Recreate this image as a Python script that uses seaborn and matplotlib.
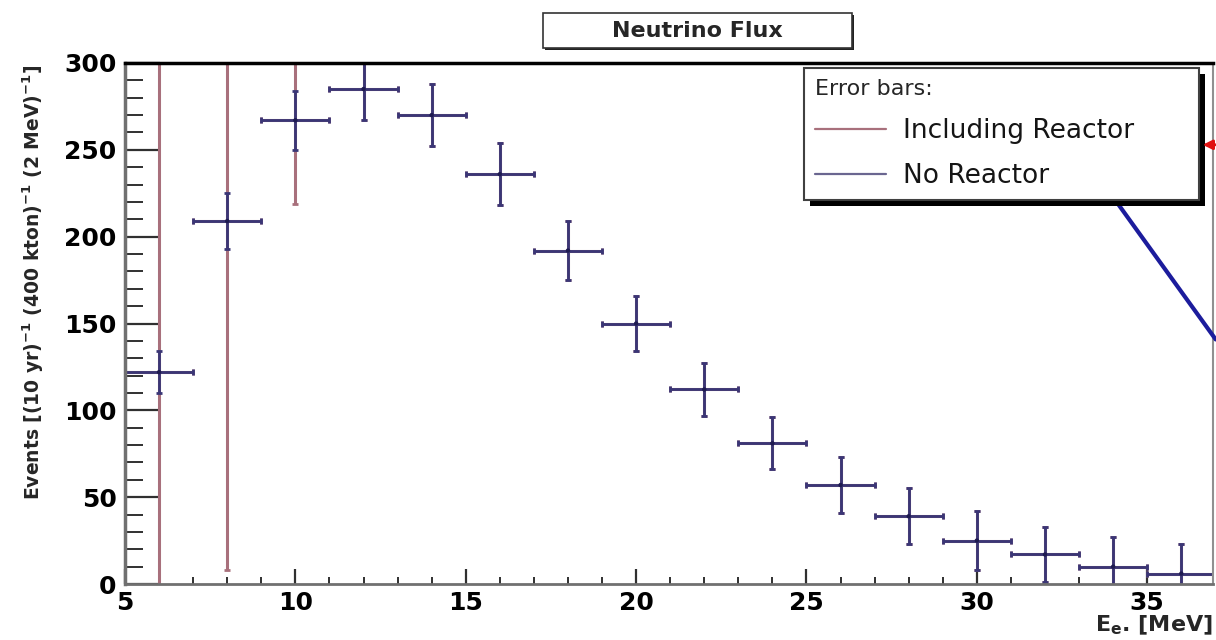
import numpy as np
import pandas as pd
import matplotlib
matplotlib.use("Agg")
import matplotlib.pyplot as plt
import seaborn as sns
from matplotlib.lines import Line2D
from matplotlib.patches import Rectangle
from matplotlib.ticker import MultipleLocator

# ---- data ----
energy = [6, 8, 10, 12, 14, 16, 18, 20, 22, 24, 26, 28, 30, 32, 34, 36]
events = [122, 209, 267, 285, 270, 236, 192, 150, 112, 81, 57, 39, 25, 17, 10, 6]
err_no_reactor = [12, 16, 17, 18, 18, 18, 17, 16, 15, 15, 16, 16, 17, 16, 17, 17]
err_with_reactor = [300, 201, 48, 18, 18, 18, 17, 16, 15, 15, 16, 16, 17, 16, 17, 17]
bin_width = 2
series_labels = ["Including Reactor", "No Reactor"]
title = "Neutrino Flux"
xlabel = r"E$_{\mathbf{e}}$. [MeV]"
ylabel = r"Events [(10 yr)$^{\mathbf{-1}}$ (400 kton)$^{\mathbf{-1}}$ (2 MeV)$^{\mathbf{-1}}$]"

df = pd.DataFrame({"E": energy, "events": events,
                   "err_nr": err_no_reactor, "err_r": err_with_reactor})

RED = "#a8707c"
BLUE = "#3a3676"

sns.set_theme(style="white")
plt.rcParams["font.family"] = ["DejaVu Sans"]
plt.rcParams["mathtext.fontset"] = "dejavusans"

W, H = 1216, 640
fig = plt.figure(figsize=(W / 100, H / 100), dpi=100)
fig.patch.set_facecolor("white")
ax = fig.add_axes([125 / W, (H - 584) / H, (1213 - 125) / W, (584 - 63) / H])

# error bars: with reactor (behind), no reactor (front)
ax.errorbar(df["E"], df["events"], yerr=df["err_r"], xerr=bin_width / 2,
            fmt="none", ecolor=RED, elinewidth=2.2, capsize=2.5, capthick=2)
ax.errorbar(df["E"], df["events"], yerr=df["err_nr"], xerr=bin_width / 2,
            fmt="none", ecolor=BLUE, elinewidth=2.0, capsize=2.5, capthick=2)
sns.scatterplot(data=df, x="E", y="events", s=10, color="#1e1a50",
                edgecolor="none", ax=ax, zorder=3)

ax.set_xlim(5, 36.93)
ax.set_ylim(0, 300)
ax.xaxis.set_major_locator(MultipleLocator(5))
ax.xaxis.set_minor_locator(MultipleLocator(1))
ax.yaxis.set_major_locator(MultipleLocator(50))
ax.yaxis.set_minor_locator(MultipleLocator(10))

ax.tick_params(axis="both", which="both", direction="in", left=True, bottom=True,
               right=False, top=False, colors="#303030", labelcolor="black")
ax.tick_params(axis="y", which="major", length=25, width=1.6, pad=6)
ax.tick_params(axis="y", which="minor", length=13, width=1.4)
ax.tick_params(axis="x", which="major", length=11, width=1.6, pad=5)
ax.tick_params(axis="x", which="minor", length=5, width=1.4)
for lab in ax.get_xticklabels() + ax.get_yticklabels():
    lab.set_fontsize(18)
    lab.set_fontweight("bold")

ax.spines["top"].set_color("black")
ax.spines["top"].set_linewidth(2.5)
ax.spines["left"].set_color("#707070")
ax.spines["left"].set_linewidth(2.5)
ax.spines["bottom"].set_color("#707070")
ax.spines["bottom"].set_linewidth(2.0)
ax.spines["right"].set_color("#909090")
ax.spines["right"].set_linewidth(1.5)

ax.set_xlabel(xlabel, loc="right", fontsize=16, fontweight="bold")
ax.xaxis.set_label_coords(1.0, -0.079)
ax.xaxis.label.set_va("center")
ax.set_ylabel(ylabel, loc="top", fontsize=13.5, fontweight="bold")
ax.yaxis.set_label_coords(-0.0846, 0.996)
ax.yaxis.label.set_va("center")

# legend
handles = [Line2D([], [], color=RED, lw=1.6), Line2D([], [], color="#6a6690", lw=1.6)]
leg = ax.legend(handles, series_labels, title="Error bars:", loc="upper left",
                bbox_to_anchor=(0.624, 0.75, 0.363, 0.24), mode="expand",
                borderaxespad=0, fontsize=19, title_fontsize=16, alignment="left",
                frameon=True, fancybox=False, edgecolor="#404040", framealpha=1,
                handlelength=2.7, handletextpad=0.65, labelspacing=0.72,
                borderpad=0.42)
leg.get_frame().set_linewidth(1.5)
leg.set_zorder(6)
for t in leg.get_texts():
    t.set_color("#151515")

fig.canvas.draw()
bb = leg.get_window_extent().transformed(ax.transAxes.inverted())
dx = 6 / (1213 - 125)
dy = 6 / (584 - 63)
ax.add_patch(Rectangle((bb.x0 + dx, bb.y0 - dy), bb.width, bb.height,
                       transform=ax.transAxes, facecolor="black", edgecolor="none",
                       clip_on=False, zorder=5.5))

# slide annotations around the legend
ax.annotate("", xy=(0.897, 0.775), xytext=(1.004, 0.465), xycoords="axes fraction",
            arrowprops=dict(arrowstyle="-", color="#1c1c9c", lw=3), annotation_clip=False)
ax.annotate("", xy=(0.988, 0.843), xytext=(1.005, 0.843), xycoords="axes fraction",
            arrowprops=dict(arrowstyle="-|>", color="#e01010", lw=2, mutation_scale=14),
            annotation_clip=False, zorder=7)

# title box
fig.add_artist(Rectangle((545 / W, 1 - 50 / H), 309 / W, 35 / H, transform=fig.transFigure,
                         facecolor="#222222", edgecolor="none"))
fig.add_artist(Rectangle((543 / W, 1 - 48 / H), 309 / W, 35 / H, transform=fig.transFigure,
                         facecolor="white", edgecolor="#333333", lw=1.2))
fig.text(697 / W, 1 - 31 / H, title, ha="center", va="center", fontsize=16,
         fontweight="bold")

fig.savefig("out.png", dpi=100, facecolor="white")
